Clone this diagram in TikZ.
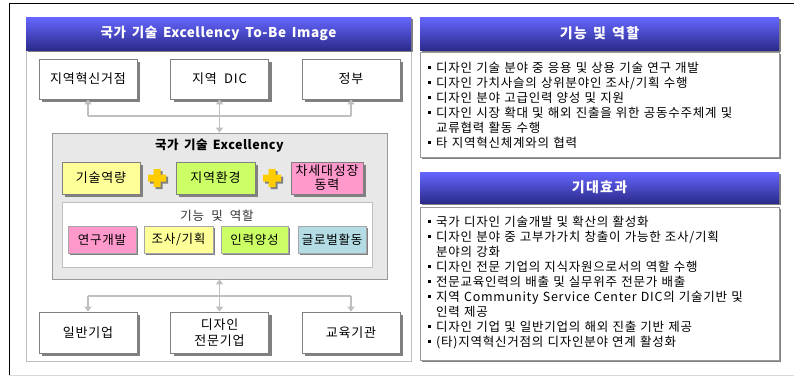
\documentclass[tikz,border=0pt]{standalone}
\usepackage{fontspec}
\setmainfont{Noto Sans CJK KR}[WordSpace=2]
\newfontfamily\bodyfont{Noto Sans CJK KR}[WordSpace=4,LetterSpace=6]
\newfontfamily\boxfont{Noto Sans CJK KR}[WordSpace=2,LetterSpace=6]
\newfontfamily\hdrfont{Noto Sans CJK KR}[WordSpace=1.6,LetterSpace=4]
\newfontfamily\rhdrfont{Noto Sans CJK KR}[WordSpace=1.4,LetterSpace=9]
\usetikzlibrary{arrows.meta,shadows}
\definecolor{hdrtop}{HTML}{6666FF}
\definecolor{hdrbot}{HTML}{2B2B8C}
\definecolor{cyel}{HTML}{FFFF99}
\definecolor{cgrn}{HTML}{CCFF66}
\definecolor{cpnk}{HTML}{FF99CC}
\definecolor{cblu}{HTML}{B4DCE4}
\definecolor{cplus}{HTML}{FFCC00}
\definecolor{lgray}{HTML}{BFBFBF}
\definecolor{dgray}{HTML}{808080}
\definecolor{cgbox}{HTML}{E8E8E8}
\newcommand\bul{\makebox[8pt][l]{\raisebox{0.3em}{\rule{2.4pt}{2.4pt}}}}
\newcommand\cont{\hspace*{8pt}}
\newcommand\jline[1]{\makebox[341pt][s]{#1}}
\tikzset{
  hdr/.style={draw=none, top color=hdrtop, bottom color=hdrbot, text=white,
    inner sep=0, drop shadow={shadow xshift=2pt, shadow yshift=-2pt, fill=dgray, opacity=1}},
  ent/.style={draw=dgray, fill=white, line width=0.8pt, inner sep=0,
    minimum width=98pt, minimum height=40pt, align=center,
    font=\boxfont\fontsize{13}{16}\selectfont,
    drop shadow={shadow xshift=3pt, shadow yshift=-3pt, fill=dgray, opacity=1}},
  cbox/.style={draw=dgray, line width=0.6pt, inner sep=0, minimum height=32pt, align=center,
    font=\boxfont\fontsize{13}{14}\selectfont,
    drop shadow={shadow xshift=2.5pt, shadow yshift=-2.5pt, fill=dgray, opacity=1}},
  fbox/.style={draw=dgray!70, line width=0.6pt, inner sep=0, minimum height=27pt, align=center,
    font=\boxfont\fontsize{12.5}{14}\selectfont,
    drop shadow={shadow xshift=2pt, shadow yshift=-2pt, fill=dgray, opacity=1}},
  rbox/.style={draw=dgray!80, fill=white, line width=0.7pt, inner sep=0, minimum width=359pt,
    drop shadow={shadow xshift=1.5pt, shadow yshift=-1.5pt, fill=dgray, opacity=1}},
  listtext/.style={anchor=north west, inner sep=0, align=left, text width=345pt,
    font=\bodyfont\fontsize{12.5}{15}\selectfont},
  conn/.style={draw=lgray, line width=1.8pt},
  tip/.style={-{Triangle[width=7pt,length=5pt]}},
  dtip/.style={{Triangle[width=7pt,length=5pt]}-{Triangle[width=7pt,length=5pt]}},
  plussign/.pic={
    \fill[dgray] (-1.5,-7) -- (5.5,-7) -- (5.5,-1.5) -- (11,-1.5) -- (11,5.5) -- (5.5,5.5) -- (5.5,11) -- (-1.5,11) -- (-1.5,5.5) -- (-7,5.5) -- (-7,-1.5) -- (-1.5,-1.5) -- cycle;
    \fill[cplus] (-3.5,-9) -- (3.5,-9) -- (3.5,-3.5) -- (9,-3.5) -- (9,3.5) -- (3.5,3.5) -- (3.5,9) -- (-3.5,9) -- (-3.5,3.5) -- (-9,3.5) -- (-9,-3.5) -- (-3.5,-3.5) -- cycle;
  }
}
\begin{document}
\begin{tikzpicture}[x=1pt,y=-1pt]
\useasboundingbox (0,0) rectangle (794,376);
\fill[white] (0,0) rectangle (794,376);
% outer frame
\draw[black, line width=1pt] (794,3) -- (9,3) -- (9,375);
\draw[lgray!60, line width=0.8pt] (9,375) -- (794,375);

% left panel
\node[draw=lgray, fill=white, line width=1pt, inner sep=0, minimum width=385pt, minimum height=344pt] (lp) at (218.5,189) {};
\node[hdr, minimum width=385pt, minimum height=33pt, font=\hdrfont\bfseries\fontsize{13.5}{15}\selectfont] (lh) at (218.5,33.5) {국가 기술 Excellency To-Be Image};

% top entities
\node[ent] (t1) at (88,79) {지역혁신거점};
\node[ent] (t2) at (219.5,79) {지역 DIC};
\node[ent] (t3) at (351,79) {정부};

% core box
\node[draw=dgray!80, fill=cgbox, line width=0.8pt, inner sep=0, minimum width=335pt, minimum height=146pt] (core) at (219.5,206) {};
\node[font=\hdrfont\bfseries\fontsize{12.5}{14}\selectfont] (ctitle) at (219.5,146) {국가 기술 Excellency};
\node[cbox, fill=cyel, minimum width=78pt] (c1) at (101,178) {기술역량};
\node[cbox, fill=cgrn, minimum width=79pt] (c2) at (215.5,178) {지역환경};
\node[cbox, fill=cpnk, minimum width=72pt, font=\boxfont\fontsize{13}{14}\selectfont] (c3) at (327,178) {차세대성장\\동력};
\pic at (157,178) {plussign};
\pic at (272,178) {plussign};

% inner function box
\node[draw=lgray, fill=white, line width=0.8pt, inner sep=0, minimum width=310pt, minimum height=65pt] (fn) at (217,234.5) {};
\node[text=black!80, font=\bodyfont\fontsize{12.5}{14}\selectfont] (fntitle) at (217,216) {기능 및 역할};
\node[fbox, fill=cpnk, minimum width=68pt] (f1) at (102,239.5) {연구개발};
\node[fbox, fill=cyel, minimum width=69pt] (f2) at (178.5,239.5) {조사/기획};
\node[fbox, fill=cgrn, minimum width=67pt] (f3) at (254.5,239.5) {인력양성};
\node[fbox, fill=cblu, minimum width=68pt] (f4) at (332,239.5) {글로벌활동};

% bottom entities
\node[ent, minimum height=41pt] (b1) at (88,332.5) {일반기업};
\node[ent, minimum height=41pt, font=\boxfont\fontsize{13}{16}\selectfont] (b2) at (219.5,332.5) {디자인\\전문기업};
\node[ent, minimum height=41pt] (b3) at (351,332.5) {교육기관};

% connectors top
\coordinate (tj1) at (88,116);
\coordinate (tj3) at (351,116);
\draw[conn] (tj1) -- (tj3);
\draw[conn, tip] (tj1) -- (t1.south);
\draw[conn, tip] (tj3) -- (t3.south);
\draw[conn, dtip] (t2.south) -- (core.north);

% connectors bottom
\coordinate (bj1) at (88,296);
\coordinate (bj3) at (351,296);
\draw[conn] (bj1) -- (bj3);
\draw[conn, tip] (bj1) -- (b1.north);
\draw[conn, tip] (bj3) -- (b3.north);
\draw[conn, dtip] (core.south) -- (b2.north);

% right panel 1
\node[rbox, minimum height=105pt] (r1) at (599.5,104.5) {};
\node[hdr, minimum width=359pt, minimum height=33pt, font=\rhdrfont\bfseries\fontsize{14}{15}\selectfont] (rh1) at (599.5,33.5) {기능 및 역할};
\node[listtext] (l1) at (428,62) {%
\bul 디자인 기술 분야 중 응용 및 상용 기술 연구 개발\\
\bul 디자인 가치사슬의 상위분야인 조사/기획 수행\\
\bul 디자인 분야 고급인력 양성 및 지원\\
\jline{\bul 디자인 시장 확대 및 해외 진출을 위한 공동수주체계 및}\\
\cont 교류협력 활동 수행\\
\bul 타 지역혁신체계와의 협력};

% right panel 2
\node[rbox, minimum height=153pt] (r2) at (599.5,283.5) {};
\node[hdr, minimum width=359pt, minimum height=31pt, font=\rhdrfont\bfseries\fontsize{14}{15}\selectfont] (rh2) at (599.5,187.5) {기대효과};
\node[listtext] (l2) at (428,216) {%
\bul 국가 디자인 기술개발 및 확산의 활성화\\
\jline{\bul 디자인 분야 중 고부가가치 창출이 가능한 조사/기획}\\
\cont 분야의 강화\\
\bul 디자인 전문 기업의 지식자원으로서의 역할 수행\\
\bul 전문교육인력의 배출 및 실무위주 전문가 배출\\
\jline{\bul 지역 Community Service Center DIC의 기술기반 및}\\
\cont 인력 제공\\
\bul 디자인 기업 및 일반기업의 해외 진출 기반 제공\\
\bul (타)지역혁신거점의 디자인분야 연계 활성화};
\end{tikzpicture}
\end{document}
